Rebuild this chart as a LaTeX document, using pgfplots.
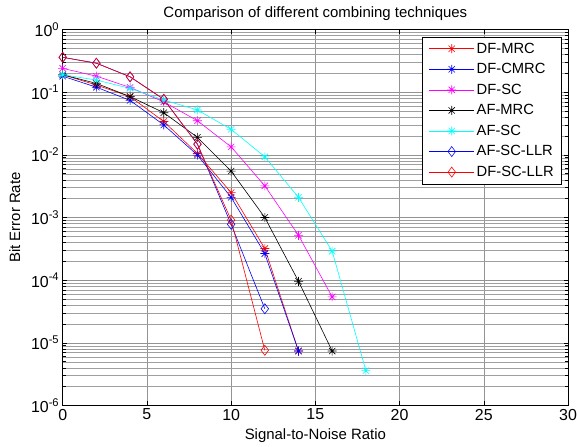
\documentclass[border=0pt]{standalone}
\usepackage{pgfplots}
\pgfplotsset{compat=1.18}
\usepackage{fontspec}
\setmainfont{Liberation Sans}
\definecolor{mred}{RGB}{255,0,0}
\definecolor{mblue}{RGB}{0,0,255}
\definecolor{mmag}{RGB}{255,0,255}
\definecolor{mcyan}{RGB}{0,255,255}
\pgfdeclareplotmark{mstar}{%
 \pgfpathmoveto{\pgfqpoint{-\pgfplotmarksize}{0pt}}\pgfpathlineto{\pgfqpoint{\pgfplotmarksize}{0pt}}%
 \pgfpathmoveto{\pgfqpoint{0pt}{-\pgfplotmarksize}}\pgfpathlineto{\pgfqpoint{0pt}{\pgfplotmarksize}}%
 \pgfpathmoveto{\pgfqpoint{-0.7\pgfplotmarksize}{-0.7\pgfplotmarksize}}\pgfpathlineto{\pgfqpoint{0.7\pgfplotmarksize}{0.7\pgfplotmarksize}}%
 \pgfpathmoveto{\pgfqpoint{-0.7\pgfplotmarksize}{0.7\pgfplotmarksize}}\pgfpathlineto{\pgfqpoint{0.7\pgfplotmarksize}{-0.7\pgfplotmarksize}}%
 \pgfusepathqstroke}
\begin{document}
\begin{tikzpicture}
\begin{axis}[
  name=ax,
  scale only axis,
  width=505.3bp, height=376bp,
  ymode=log,
  xmin=0, xmax=30, ymin=1e-6, ymax=1,
  xtick={0,5,10,15,20,25,30},
  ytick={1e-6,1e-5,1e-4,1e-3,1e-2,1e-1,1},
  yticklabels={10\textsuperscript{-6},10\textsuperscript{-5},10\textsuperscript{-4},10\textsuperscript{-3},10\textsuperscript{-2},10\textsuperscript{-1},10\textsuperscript{0}},
  /pgf/number format/assume math mode=true,
  tick label style={font=\fontsize{16}{18}\selectfont},
  label style={font=\fontsize{15}{17}\selectfont},
  title style={font=\fontsize{15}{17}\selectfont, yshift=-1bp},
  title={Comparison of different combining techniques},
  xlabel={Signal-to-Noise Ratio},
  ylabel={Bit Error Rate},
  xlabel style={yshift=-2bp},
  ylabel style={yshift=4bp},
  tick align=inside,
  tick pos=both,
  grid=both,
  major grid style={gray!85, line width=0.5pt},
  minor grid style={gray!75, line width=0.4pt},
  minor x tick num=0,
  axis line style={line width=0.9pt},
  every tick/.style={black, line width=0.5pt},
  legend cell align=left,
  legend style={at={(1,1)}, anchor=north east, xshift=-6bp, yshift=-7bp,
    font=\fontsize{14.8}{16}\selectfont, draw=black, line width=0.6pt,
    row sep=4.8bp, inner xsep=6bp, inner ysep=4bp},
  legend image code/.code={\draw[mark repeat=2,mark phase=2] plot coordinates {(0cm,0cm) (0.8cm,0cm) (1.6cm,0cm)};},
  every axis plot/.append style={line width=0.6pt},
]
\addplot[mred, mark=mstar, mark size=4.5bp] coordinates {
 (0,0.19) (2,0.13) (4,0.085) (6,0.034) (8,0.0105) (10,0.0025) (12,3.2e-4) (14,7.4e-6)};
\addlegendentry{DF-MRC}
\addplot[mblue, mark=mstar, mark size=4.5bp] coordinates {
 (0,0.18) (2,0.12) (4,0.074) (6,0.03) (8,0.0099) (10,0.0021) (12,2.66e-4) (14,7.4e-6)};
\addlegendentry{DF-CMRC}
\addplot[mmag, mark=mstar, mark size=4.5bp] coordinates {
 (0,0.24) (2,0.18) (4,0.119) (6,0.07) (8,0.035) (10,0.0134) (12,0.0032) (14,5.2e-4) (16,5.4e-5)};
\addlegendentry{DF-SC}
\addplot[black, mark=mstar, mark size=4.5bp] coordinates {
 (0,0.19) (2,0.138) (4,0.085) (6,0.047) (8,0.019) (10,0.0055) (12,1.0e-3) (14,9.6e-5) (16,7.4e-6)};
\addlegendentry{AF-MRC}
\addplot[mcyan, mark=mstar, mark size=4.5bp] coordinates {
 (0,0.19) (2,0.156) (4,0.115) (6,0.075) (8,0.052) (10,0.0255) (12,0.0093) (14,0.0021) (16,2.9e-4) (18,3.6e-6)};
\addlegendentry{AF-SC}
\addplot[mblue, mark=diamond, mark size=5bp] coordinates {
 (0,0.36) (2,0.29) (4,0.176) (6,0.077) (8,0.0148) (10,7.8e-4) (12,3.5e-5)};
\addlegendentry{AF-SC-LLR}
\addplot[mred, mark=diamond, mark size=5bp] coordinates {
 (0,0.36) (2,0.29) (4,0.176) (6,0.077) (8,0.0148) (10,9.1e-4) (12,7.6e-6)};
\addlegendentry{DF-SC-LLR}
\end{axis}
\pgfresetboundingbox
\path ([xshift=-62.7bp,yshift=-41.5bp]ax.south west) rectangle ([xshift=9bp,yshift=29.5bp]ax.north east);
\end{tikzpicture}
\end{document}
